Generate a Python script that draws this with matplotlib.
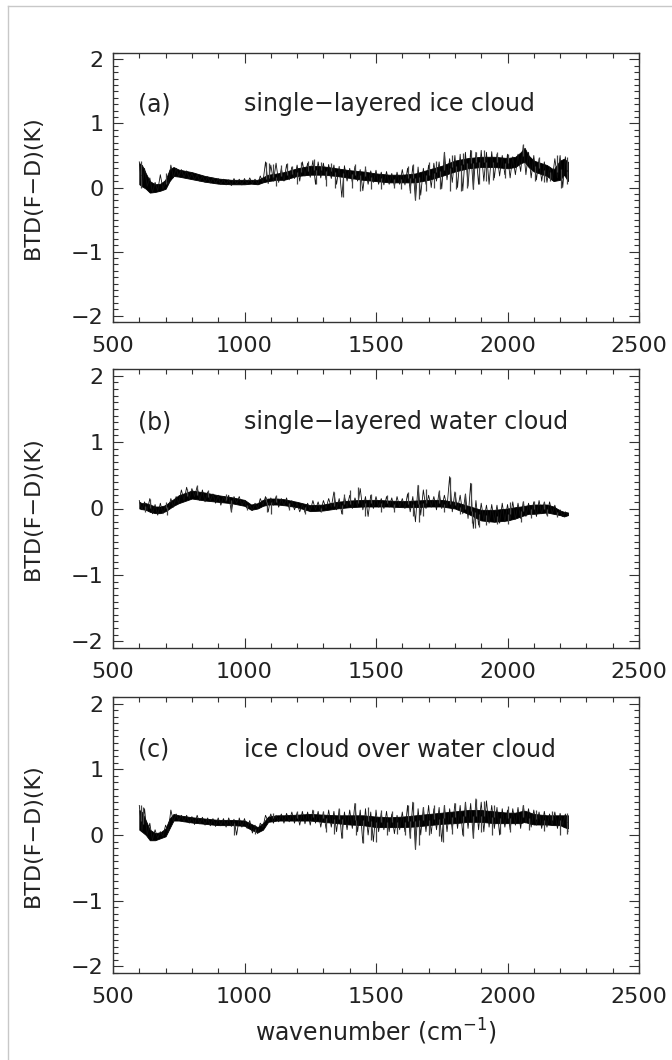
import numpy as np
import matplotlib
matplotlib.use("Agg")
import matplotlib.pyplot as plt
from matplotlib.lines import Line2D
from matplotlib.ticker import MultipleLocator

# wavenumber grid (cm^-1) on which the dense core of each spectrum was read
core_wn = [600, 610, 625, 640, 660, 680, 700, 715, 730, 750, 800, 850, 900,
           950, 1000, 1025, 1050, 1070, 1090, 1125, 1150, 1200, 1250, 1300,
           1350, 1400, 1450, 1500, 1550, 1600, 1650, 1700, 1750, 1800, 1850,
           1900, 1950, 2000, 2030, 2050, 2065, 2080, 2100, 2150, 2175, 2200,
           2215, 2230]

# channel-to-channel jitter: upper reach read at 600,620,...,2220 and
# lower reach read at 610,630,...,2230
jit_wn_up = np.arange(600, 2221, 20)
jit_wn_lo = np.arange(610, 2231, 20)

# (a) single-layered ice cloud: core band top / bottom (K)
ice_top = [0.38, 0.35, 0.22, 0.10, 0.05, 0.06, 0.12, 0.28, 0.32, 0.28, 0.24,
           0.18, 0.14, 0.12, 0.12, 0.12, 0.12, 0.16, 0.20, 0.22, 0.24, 0.30,
           0.34, 0.33, 0.30, 0.27, 0.25, 0.22, 0.20, 0.20, 0.22, 0.28, 0.34,
           0.42, 0.46, 0.48, 0.48, 0.46, 0.48, 0.55, 0.62, 0.50, 0.42, 0.35,
           0.28, 0.42, 0.45, 0.40]
ice_bot = [0.05, 0.02, -0.02, -0.08, -0.07, -0.05, -0.02, 0.10, 0.18, 0.17,
           0.13, 0.09, 0.06, 0.05, 0.05, 0.06, 0.05, 0.08, 0.10, 0.12, 0.12,
           0.18, 0.20, 0.20, 0.18, 0.15, 0.12, 0.10, 0.08, 0.08, 0.08, 0.12,
           0.18, 0.25, 0.30, 0.32, 0.32, 0.30, 0.32, 0.38, 0.40, 0.32, 0.25,
           0.18, 0.10, 0.12, 0.20, 0.10]
ice_jit_up = [0.40, 0.30, 0.15, 0.08, 0.20, 0.12, 0.35, 0.30, 0.28, 0.26,
              0.22, 0.20, 0.18, 0.17, 0.15, 0.14, 0.13, 0.12, 0.14, 0.13,
              0.14, 0.15, 0.13, 0.18, 0.40, 0.35, 0.38, 0.30, 0.36, 0.32,
              0.35, 0.40, 0.38, 0.42, 0.40, 0.38, 0.36, 0.35, 0.33, 0.34,
              0.30, 0.33, 0.28, 0.30, 0.26, 0.27, 0.24, 0.25, 0.22, 0.24,
              0.28, 0.30, 0.34, 0.32, 0.30, 0.35, 0.38, 0.40, 0.55, 0.45,
              0.50, 0.52, 0.55, 0.58, 0.55, 0.58, 0.55, 0.56, 0.52, 0.50,
              0.52, 0.48, 0.52, 0.66, 0.55, 0.50, 0.45, 0.40, 0.32, 0.45,
              0.50, 0.48]
ice_jit_lo = [0.00, 0.02, -0.08, -0.05, -0.03, 0.05, 0.15, 0.17, 0.16, 0.14,
              0.12, 0.10, 0.08, 0.07, 0.06, 0.05, 0.04, 0.03, 0.05, 0.04,
              0.05, 0.06, 0.05, 0.08, 0.06, 0.10, 0.08, 0.10, 0.12, 0.14,
              0.10, 0.18, 0.16, 0.05, 0.15, 0.12, 0.14, 0.05, -0.15, 0.10,
              0.08, 0.10, -0.05, 0.05, 0.08, 0.05, 0.04, 0.05, 0.02, 0.05,
              0.04, -0.05, -0.20, -0.12, 0.05, 0.00, 0.10, -0.02, 0.12, 0.08,
              0.00, -0.05, 0.02, -0.03, 0.05, 0.10, 0.05, 0.15, 0.18, 0.20,
              0.15, 0.20, 0.25, 0.20, 0.15, 0.12, 0.10, 0.08, 0.12, 0.15,
              0.00, 0.10]
ice_spike_wn = [605, 608, 700, 1080, 1095, 1110, 1120, 1140, 1160, 1180, 1200,
                1215, 1240, 1265, 1270, 1290, 1310, 1330, 1345, 1375, 1410,
                1420, 1440, 1460, 1480, 1520, 1570, 1595, 1620, 1630, 1640,
                1650, 1665, 1690, 1700, 1720, 1730, 1745, 1760, 1780, 1790,
                1805, 1825, 1830, 1845, 1860, 1870, 1880, 1890, 1910, 1920,
                1945, 1960, 1990, 2000, 2060, 2105, 2120, 2140, 2160, 2190,
                2205, 2225, 2228]
ice_spike_val = [0.00, 0.42, 0.22, 0.40, 0.38, 0.36, 0.02, 0.35, 0.38, 0.33,
                 0.05, 0.40, 0.42, 0.44, 0.05, 0.40, 0.02, 0.38, 0.00, -0.15,
                 0.00, 0.36, -0.05, 0.33, -0.02, -0.03, 0.00, -0.02, 0.33,
                 -0.08, 0.36, -0.20, -0.18, -0.05, 0.40, 0.00, 0.42, -0.03,
                 0.55, -0.05, 0.50, -0.03, -0.05, 0.54, 0.00, 0.58, -0.03,
                 0.55, 0.05, 0.58, 0.10, 0.12, 0.56, 0.15, 0.52, 0.68, 0.10,
                 0.48, 0.08, 0.10, 0.50, 0.00, 0.48, 0.05]

# (b) single-layered water cloud
water_top = [0.10, 0.08, 0.08, 0.06, 0.03, 0.03, 0.05, 0.10, 0.14, 0.20, 0.27,
             0.24, 0.20, 0.17, 0.13, 0.06, 0.08, 0.13, 0.15, 0.15, 0.14, 0.10,
             0.05, 0.06, 0.10, 0.12, 0.13, 0.13, 0.12, 0.11, 0.12, 0.13, 0.13,
             0.10, 0.04, -0.02, -0.02, 0.00, 0.02, 0.03, 0.04, 0.05, 0.06,
             0.06, 0.03, -0.03, -0.05, -0.06]
water_bot = [0.00, -0.01, -0.02, -0.05, -0.07, -0.07, -0.04, 0.00, 0.04, 0.08,
             0.15, 0.12, 0.10, 0.08, 0.04, -0.02, 0.00, 0.04, 0.06, 0.06, 0.05,
             0.02, -0.04, -0.03, 0.00, 0.02, 0.03, 0.03, 0.03, 0.02, 0.02,
             0.03, 0.03, 0.00, -0.08, -0.18, -0.20, -0.18, -0.15, -0.12,
             -0.10, -0.08, -0.08, -0.06, -0.08, -0.10, -0.12, -0.10]
water_jit_up = [0.12, 0.10, 0.15, 0.06, 0.08, 0.05, 0.15, 0.18, 0.28, 0.32,
                0.30, 0.33, 0.28, 0.25, 0.22, 0.20, 0.18, 0.20, 0.18, 0.18,
                0.12, 0.05, 0.08, 0.15, 0.18, 0.16, 0.18, 0.15, 0.16, 0.12,
                0.08, 0.06, 0.08, 0.12, 0.10, 0.12, 0.15, 0.25, 0.15, 0.18,
                0.20, 0.16, 0.30, 0.18, 0.20, 0.18, 0.15, 0.18, 0.16, 0.18,
                0.15, 0.22, 0.18, 0.35, 0.28, 0.20, 0.18, 0.25, 0.20, 0.48,
                0.25, 0.20, 0.22, 0.38, 0.12, 0.08, 0.05, 0.06, 0.05, 0.08,
                0.06, 0.10, 0.08, 0.10, 0.08, 0.10, 0.12, 0.10, 0.10, 0.05,
                -0.02, -0.05]
water_jit_lo = [-0.02, -0.03, -0.08, -0.10, -0.08, -0.02, 0.02, 0.08, 0.12,
                0.15, 0.18, 0.12, 0.10, 0.12, 0.08, 0.05, 0.10, -0.05, 0.08,
                0.05, 0.00, -0.03, 0.00, 0.05, -0.05, 0.05, 0.02, 0.04, 0.00,
                -0.02, -0.05, -0.06, -0.04, -0.02, -0.05, 0.00, 0.02, -0.02,
                -0.08, 0.02, 0.00, 0.03, -0.02, -0.12, 0.00, 0.02, 0.00, 0.02,
                -0.02, 0.02, 0.00, -0.05, -0.20, -0.10, 0.00, 0.02, -0.02,
                0.00, 0.02, -0.05, -0.02, -0.08, -0.15, -0.30, -0.25, -0.18,
                -0.22, -0.20, -0.22, -0.20, -0.18, -0.16, -0.15, -0.12, -0.10,
                -0.12, -0.08, -0.10, -0.08, -0.10, -0.12, -0.10]
water_spike_wn = [620, 640, 700, 705, 780, 820, 860, 930, 950, 1010, 1080,
                  1085, 1100, 1120, 1170, 1230, 1290, 1340, 1370, 1380, 1400,
                  1430, 1460, 1480, 1520, 1540, 1570, 1620, 1640, 1660, 1665,
                  1680, 1690, 1740, 1760, 1780, 1800, 1820, 1840, 1860, 1865,
                  1875, 1890, 1920, 1960, 2000, 2010, 2050, 2060, 2090, 2100,
                  2140, 2150, 2190]
water_spike_val = [-0.05, 0.15, 0.10, -0.10, 0.30, 0.35, 0.28, 0.22, -0.05,
                   -0.02, 0.18, -0.05, -0.08, 0.20, -0.03, -0.08, -0.06, 0.25,
                   -0.08, 0.22, 0.28, 0.32, -0.12, 0.22, -0.05, 0.20, -0.05,
                   0.25, -0.12, 0.35, -0.20, -0.12, 0.30, 0.28, -0.06, 0.48,
                   0.25, -0.08, 0.22, 0.38, -0.22, -0.30, -0.28, -0.25, -0.24,
                   -0.23, 0.10, -0.20, 0.12, -0.15, 0.12, 0.10, -0.12, -0.13]

# (c) ice cloud over water cloud
multi_top = [0.38, 0.35, 0.22, 0.08, 0.03, 0.04, 0.10, 0.25, 0.32, 0.30, 0.27,
             0.25, 0.23, 0.23, 0.22, 0.17, 0.12, 0.18, 0.28, 0.30, 0.30, 0.31,
             0.32, 0.31, 0.30, 0.30, 0.30, 0.28, 0.27, 0.28, 0.30, 0.32, 0.34,
             0.36, 0.38, 0.38, 0.36, 0.34, 0.34, 0.36, 0.37, 0.35, 0.32, 0.30,
             0.30, 0.30, 0.30, 0.30]
multi_bot = [0.08, 0.05, 0.00, -0.08, -0.08, -0.05, -0.02, 0.10, 0.22, 0.22,
             0.19, 0.17, 0.15, 0.15, 0.14, 0.08, 0.04, 0.08, 0.20, 0.22, 0.22,
             0.22, 0.22, 0.20, 0.18, 0.16, 0.15, 0.12, 0.12, 0.12, 0.13, 0.15,
             0.17, 0.18, 0.20, 0.20, 0.18, 0.18, 0.18, 0.18, 0.20, 0.18, 0.16,
             0.16, 0.15, 0.15, 0.12, 0.10]
multi_jit_up = [0.45, 0.40, 0.18, 0.08, 0.05, 0.15, 0.38, 0.32, 0.30, 0.30,
                0.28, 0.30, 0.27, 0.26, 0.25, 0.26, 0.25, 0.26, 0.24, 0.26,
                0.25, 0.22, 0.15, 0.18, 0.30, 0.32, 0.30, 0.32, 0.33, 0.35,
                0.34, 0.36, 0.35, 0.38, 0.36, 0.35, 0.38, 0.36, 0.40, 0.35,
                0.38, 0.48, 0.38, 0.40, 0.35, 0.38, 0.34, 0.36, 0.32, 0.30,
                0.35, 0.45, 0.50, 0.40, 0.42, 0.45, 0.40, 0.42, 0.45, 0.40,
                0.48, 0.45, 0.50, 0.48, 0.55, 0.50, 0.52, 0.45, 0.42, 0.40,
                0.38, 0.40, 0.42, 0.45, 0.40, 0.38, 0.35, 0.36, 0.32, 0.35,
                0.33, 0.32]
multi_jit_lo = [0.05, 0.00, -0.08, -0.05, -0.02, 0.05, 0.20, 0.22, 0.20, 0.18,
                0.16, 0.17, 0.15, 0.14, 0.13, 0.14, 0.12, 0.13, 0.00, 0.12,
                0.10, 0.03, 0.02, 0.12, 0.20, 0.18, 0.20, 0.18, 0.20, 0.18,
                0.15, 0.17, 0.15, 0.18, 0.12, 0.10, 0.12, 0.05, -0.05, 0.08,
                0.10, 0.05, -0.12, 0.00, -0.10, 0.05, 0.08, 0.05, 0.02, 0.08,
                0.05, -0.05, -0.22, 0.00, 0.05, 0.02, 0.08, -0.10, 0.05, 0.08,
                0.10, 0.00, 0.10, -0.05, 0.08, 0.05, 0.12, 0.10, 0.00, 0.12,
                0.08, 0.15, 0.10, 0.18, 0.12, 0.15, 0.10, 0.12, 0.15, 0.10,
                0.15, 0.05]
multi_spike_wn = [605, 615, 960, 1040, 1110, 1200, 1260, 1300, 1310, 1340,
                  1360, 1370, 1420, 1425, 1450, 1470, 1480, 1500, 1520, 1540,
                  1560, 1580, 1610, 1620, 1630, 1640, 1650, 1665, 1680, 1700,
                  1720, 1740, 1755, 1760, 1790, 1800, 1830, 1840, 1870, 1880,
                  1900, 1910, 1940, 1950, 1970, 2000, 2010, 2060, 2080, 2110,
                  2140, 2170, 2200, 2225, 2228]
multi_spike_val = [0.45, 0.42, 0.00, 0.02, 0.33, 0.36, 0.38, 0.36, 0.05, 0.02,
                   0.40, -0.05, 0.48, 0.00, -0.12, 0.42, -0.08, -0.10, 0.38,
                   0.00, 0.36, 0.02, 0.00, 0.45, -0.05, 0.50, -0.22, -0.15,
                   0.42, 0.00, 0.45, -0.02, -0.10, 0.45, 0.02, 0.48, -0.02,
                   0.50, -0.05, 0.55, 0.05, 0.52, 0.00, 0.46, 0.02, 0.44, 0.05,
                   0.45, 0.08, 0.38, 0.06, 0.36, 0.00, 0.33, 0.02]

panel_tags = ["(a)", "(b)", "(c)"]
panel_titles = ["single\u2212layered ice cloud",
                "single\u2212layered water cloud",
                "ice cloud over water cloud"]
series = [(ice_top, ice_bot, ice_jit_up, ice_jit_lo, ice_spike_wn, ice_spike_val),
          (water_top, water_bot, water_jit_up, water_jit_lo, water_spike_wn, water_spike_val),
          (multi_top, multi_bot, multi_jit_up, multi_jit_lo, multi_spike_wn, multi_spike_val)]

FONT = "DejaVu Sans"
TXT = "#222222"
FS_TICK = 16
FS_TEXT = 17

fig = plt.figure(figsize=(6.72, 10.6), dpi=100, facecolor="white")

# axes boxes in pixels: (top, bottom)
boxes = [(53, 322), (369, 648), (697, 973)]
left_px, right_px = 113, 639
W, H = 672.0, 1060.0

for i, ((top, bot), (ctop, cbot, jup, jlo, swn, sval)) in enumerate(zip(boxes, series)):
    ax = fig.add_axes([left_px / W, 1 - bot / H, (right_px - left_px) / W, (bot - top) / H])

    # dense core of the spectrum
    ax.fill_between(core_wn, cbot, ctop, color="black", lw=0.6)
    # channel jitter around the core
    jwn = np.empty(len(jit_wn_up) + len(jit_wn_lo))
    jval = np.empty_like(jwn)
    jwn[0::2], jwn[1::2] = jit_wn_up, jit_wn_lo
    jval[0::2], jval[1::2] = jup, jlo
    ax.plot(jwn, jval, color="#111111", lw=0.6)
    # isolated line spikes, drawn from the core centre
    mid = (np.asarray(ctop) + np.asarray(cbot)) / 2
    base = np.interp(swn, core_wn, mid)
    ax.vlines(swn, base, sval, color="#444444", lw=0.9)

    ax.set_xlim(500, 2500)
    ax.set_ylim(-2.1, 2.1)
    ax.xaxis.set_major_locator(MultipleLocator(500))
    ax.xaxis.set_minor_locator(MultipleLocator(100))
    ax.yaxis.set_major_locator(MultipleLocator(1))
    ax.yaxis.set_minor_locator(MultipleLocator(0.1))
    ax.tick_params(which="both", direction="in", top=True, right=True,
                   color="#333333", width=0.8)
    ax.tick_params(which="major", length=7)
    ax.tick_params(which="minor", length=3.5)
    ax.tick_params(axis="x", which="major", pad=10)
    ax.tick_params(axis="y", which="major", pad=7)
    ax.set_yticks([-2, -1, 0, 1, 2])
    ax.set_yticklabels(["\u22122", "\u22121", "0", "1", "2"])
    for lab in ax.get_xticklabels() + ax.get_yticklabels():
        lab.set_fontfamily(FONT)
        lab.set_fontsize(FS_TICK)
        lab.set_color(TXT)
    for sp in ax.spines.values():
        sp.set_color("#333333")
        sp.set_linewidth(1.0)

    ax.set_ylabel("BTD(F\u2212D)(K)", fontfamily=FONT, fontsize=16, color=TXT)
    ax.yaxis.set_label_coords(-(113 - 43) / (right_px - left_px), 0.5)

    ax.text(595, 1.3, panel_tags[i], fontfamily=FONT, fontsize=FS_TEXT, color=TXT,
            ha="left", va="center")
    ax.text(1000, 1.3, panel_titles[i], fontfamily=FONT, fontsize=FS_TEXT, color=TXT,
            ha="left", va="center")

    if i == 2:
        ax.set_xlabel("wavenumber (cm$^{-1}$)", fontfamily=FONT, fontsize=FS_TEXT,
                      color=TXT, labelpad=7)

# thin grey frame on the left and top edges
fig.add_artist(Line2D([7.5 / W, 7.5 / W], [0, 1 - 5.5 / H], color="#c8c8c8", lw=1.0))
fig.add_artist(Line2D([7.5 / W, 1], [1 - 5.5 / H, 1 - 5.5 / H], color="#c8c8c8", lw=1.0))

fig.savefig("out.png", dpi=100, facecolor="white")
